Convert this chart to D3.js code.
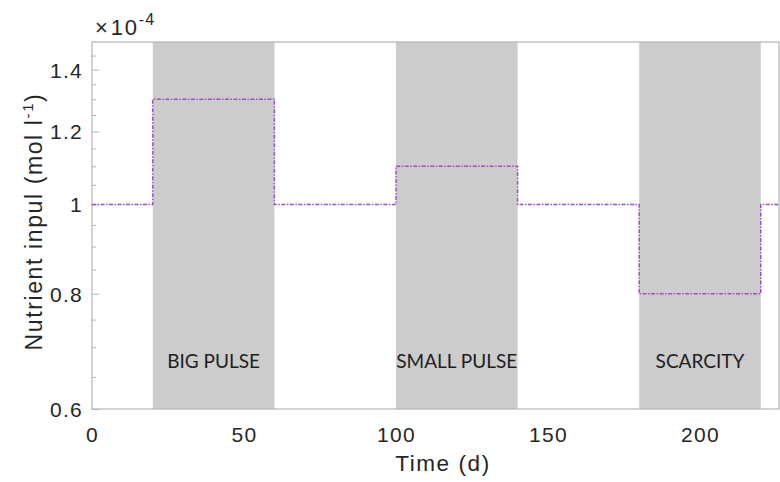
<!DOCTYPE html>
<html>
<head>
<meta charset="utf-8">
<script src="https://cdn.jsdelivr.net/npm/d3@7"></script>
<style>
  html, body { margin: 0; padding: 0; background: #fff; }
  svg { display: block; }
  .tick-text { font-family: "Liberation Sans", Arial, sans-serif; fill: #262626; letter-spacing: 0.06em; }
</style>
</head>
<body>
<svg id="chart" width="780" height="482"></svg>
<script>
// Nutrient input forcing over time (step changes), in units of 1e-4 mol l^-1
const stepTimes  = [0, 20, 60, 100, 140, 180, 220, 226];
const stepValues = [1, 1.3, 1, 1.1, 1, 0.8, 1, 1];

// Shaded forcing periods
const periodStart  = [20, 100, 180];
const periodEnd    = [60, 140, 220];
const periodLabels = ["BIG PULSE", "SMALL PULSE", "SCARCITY"];

// Axis ticks
const xTicks      = [0, 50, 100, 150, 200];
const xTickLabels = ["0", "50", "100", "150", "200"];
const yTicks      = [0.6, 0.8, 1, 1.2, 1.4];
const yTickLabels = ["0.6", "0.8", "1", "1.2", "1.4"];
const yMinorTicks = [0.65, 0.7, 0.75, 0.85, 0.9, 0.95, 1.05, 1.1, 1.15, 1.25, 1.3, 1.35, 1.45];

const xDomain = [0, 226];
const yDomain = [0.6, 1.5];

const plot = { left: 92, right: 779, top: 42, bottom: 409 };

const svg = d3.select("#chart");
const x = d3.scaleLinear().domain(xDomain).range([plot.left, plot.right]);
const y = d3.scaleLog().domain(yDomain).range([plot.bottom, plot.top]);

const axisColor = "#b4b4b4";
const textColor = "#262626";

// shaded periods
svg.append("g").selectAll("rect")
  .data(periodStart.map((s, i) => ({ s, e: periodEnd[i], label: periodLabels[i] })))
  .join("rect")
  .attr("x", d => x(d.s))
  .attr("y", plot.top)
  .attr("width", d => x(d.e) - x(d.s))
  .attr("height", plot.bottom - plot.top)
  .attr("fill", "#cccccc");

// period labels
svg.append("g").selectAll("text")
  .data(periodStart.map((s, i) => ({ mid: (s + periodEnd[i]) / 2, label: periodLabels[i] })))
  .join("text")
  .attr("x", d => x(d.mid))
  .attr("y", 368)
  .attr("text-anchor", "middle")
  .attr("font-family", "Lato, 'Open Sans', sans-serif")
  .attr("font-size", 19)
  .attr("fill", "#1e1e1e")
  .text(d => d.label);

// axes box
svg.append("rect")
  .attr("x", plot.left).attr("y", plot.top)
  .attr("width", plot.right - plot.left).attr("height", plot.bottom - plot.top)
  .attr("fill", "none").attr("stroke", axisColor).attr("stroke-width", 1.2);

// y axis (ticks drawn inward)
const yAxis = d3.axisRight(y)
  .tickValues(yTicks)
  .tickFormat((d, i) => yTickLabels[i])
  .tickSize(7)
  .tickPadding(0);
const gy = svg.append("g").attr("transform", `translate(${plot.left},0)`).call(yAxis);
gy.select(".domain").remove();
gy.selectAll(".tick line").attr("stroke", axisColor);
gy.selectAll(".tick text")
  .attr("class", "tick-text")
  .attr("x", -9)
  .attr("dy", "0.36em")
  .attr("text-anchor", "end")
  .attr("font-size", 21);

const gyMinor = d3.axisRight(y).tickValues(yMinorTicks).tickFormat("").tickSize(4);
const gm = svg.append("g").attr("transform", `translate(${plot.left},0)`).call(gyMinor);
gm.select(".domain").remove();
gm.selectAll(".tick line").attr("stroke", axisColor);

// x axis labels (no tick marks)
const xAxis = d3.axisBottom(x)
  .tickValues(xTicks)
  .tickFormat((d, i) => xTickLabels[i])
  .tickSize(0)
  .tickPadding(0);
const gx = svg.append("g").attr("transform", `translate(0,${plot.bottom})`).call(xAxis);
gx.select(".domain").remove();
gx.selectAll(".tick text")
  .attr("class", "tick-text")
  .attr("y", 33)
  .attr("dy", 0)
  .attr("font-size", 21);

// step line
const line = d3.line()
  .x((d, i) => x(stepTimes[i]))
  .y(d => y(d))
  .curve(d3.curveStepAfter);
svg.append("path")
  .datum(stepValues)
  .attr("d", line)
  .attr("fill", "none")
  .attr("stroke", "#9c4fc0")
  .attr("stroke-width", 1.5)
  .attr("stroke-dasharray", "4,1.5,1.5,1.5");

// axis titles
svg.append("text")
  .attr("x", 443)
  .attr("y", 471)
  .attr("text-anchor", "middle")
  .attr("font-family", "'Liberation Sans', Arial, sans-serif")
  .attr("font-size", 22.5)
  .attr("letter-spacing", "0.07em")
  .attr("fill", textColor)
  .text("Time (d)");

const yl = svg.append("text")
  .attr("transform", `translate(42,${(plot.top + plot.bottom) / 2 - 4}) rotate(-90)`)
  .attr("text-anchor", "middle")
  .attr("font-family", "'Liberation Sans', Arial, sans-serif")
  .attr("font-size", 23)
  .attr("letter-spacing", "0.07em")
  .attr("fill", textColor);
yl.append("tspan").text("Nutrient inpul (mol l");
yl.append("tspan").attr("font-size", 15).attr("dy", -9).text("-1");
yl.append("tspan").attr("dy", 9).text(")");

// exponent label
const ex = svg.append("text")
  .attr("x", 95)
  .attr("y", 35)
  .attr("font-family", "'Liberation Sans', Arial, sans-serif")
  .attr("font-size", 22)
  .attr("fill", textColor);
ex.append("tspan").text("\u00d7");
ex.append("tspan").attr("dx", 3).attr("letter-spacing", "0.08em").text("10");
ex.append("tspan").attr("font-size", 16).attr("dy", -10).attr("letter-spacing", "0.06em").text("-4");
</script>
</body>
</html>
